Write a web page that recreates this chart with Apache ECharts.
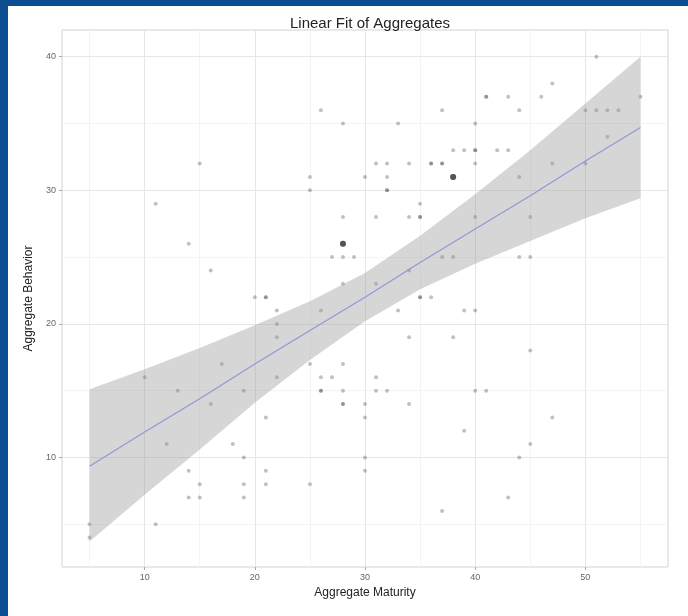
<!DOCTYPE html>
<html>
<head>
<meta charset="utf-8">
<script src="https://cdn.jsdelivr.net/npm/echarts@6/dist/echarts.min.js"></script>
<style>
  html, body { margin: 0; padding: 0; background: #0b4e92; }
  #main { position: absolute; left: 8px; top: 6px; width: 680px; height: 610px; background: #fff; }
</style>
</head>
<body>
<div id="main"></div>
<script>
// observations (maturity, behavior) - repeated pairs are overlapping points
var pointX = [5,5,10,11,11,12,13,14,14,14,
  15,15,15,16,16,17,18,19,19,19,
  19,20,21,21,21,21,21,22,22,22,
  22,25,25,25,25,26,26,26,26,26,
  27,27,28,28,28,28,28,28,28,28,
  28,28,28,28,29,30,30,30,30,30,
  31,31,31,31,31,32,32,32,32,32,
  33,33,34,34,34,34,34,35,35,35,
  35,35,36,36,36,37,37,37,37,37,
  38,38,38,38,38,38,38,39,39,39,
  40,40,40,40,40,40,40,41,41,41,
  42,43,43,43,44,44,44,44,45,45,
  45,45,46,47,47,47,50,50,51,51,
  52,52,53,55];
var pointY = [5,4,16,29,5,11,15,26,9,7,
  32,8,7,24,14,17,11,15,10,8,
  7,22,22,22,13,9,8,21,20,19,
  16,31,30,17,8,36,21,16,15,15,
  25,16,35,28,26,26,26,26,25,23,
  17,15,14,14,25,31,14,13,10,9,
  32,28,23,16,15,32,31,30,30,15,
  35,21,32,28,24,19,14,29,28,28,
  22,22,32,32,22,36,32,32,25,6,
  33,31,31,31,31,25,19,33,21,12,
  35,33,33,32,28,21,15,37,37,15,
  33,37,33,7,36,31,25,10,28,25,
  18,11,37,38,32,13,36,32,40,36,
  36,34,36,37];

// linear fit and its confidence band
var fitX     = [5, 10, 15, 20, 25, 30, 35, 40, 45, 50, 55];
var fitY     = [9.35, 11.9, 14.4, 17.0, 19.5, 22.0, 24.6, 27.1, 29.6, 32.2, 34.7];
var bandLow  = [3.7, 7.2, 10.6, 14.1, 17.3, 20.2, 22.6, 24.5, 26.2, 27.9, 29.4];
var bandHigh = [15.1, 16.6, 18.2, 19.9, 21.7, 23.8, 26.6, 29.7, 33.0, 36.5, 40.0];

var xTicks = [10, 20, 30, 40, 50];
var xMinor = [5, 15, 25, 35, 45, 55];
var yTicks = [10, 20, 30, 40];
var yMinor = [5, 15, 25, 35];

var myChart = echarts.init(document.getElementById('main'));

// how many observations share each spot (overlaps look bigger and darker)
var counts = {};
pointX.forEach(function (x, i) {
    var k = x + '_' + pointY[i];
    counts[k] = (counts[k] || 0) + 1;
});
var points = pointX.map(function (x, i) { return [x, pointY[i]]; });
var fitLine = fitX.map(function (x, i) { return [x, fitY[i]]; });
var band = fitX.map(function (x, i) { return [x, bandLow[i], bandHigh[i]]; });

function gridLines(vals, key, color) {
    return vals.map(function (v) {
        var d = {};
        d[key] = v;
        d.lineStyle = { color: color, width: 1, type: 'solid' };
        return d;
    });
}

var font = 'Liberation Sans, Arial, sans-serif';

myChart.setOption({
    animation: false,
    title: {
        text: 'Linear Fit of Aggregates',
        left: 357,
        top: 5,
        textAlign: 'center',
        textStyle: { fontSize: 15, fontWeight: 'normal', color: '#222', fontFamily: font }
    },
    grid: {
        left: 54, top: 24, width: 606, height: 537,
        show: true, borderColor: '#d2d2d2', borderWidth: 1, backgroundColor: '#fff'
    },
    xAxis: {
        type: 'value', min: 2.5, max: 57.5,
        name: 'Aggregate Maturity', nameLocation: 'middle', nameGap: 18,
        nameTextStyle: { fontSize: 12, color: '#222', fontFamily: font },
        axisLine: { show: false, onZero: false },
        axisTick: { show: true, customValues: xTicks, length: 3, lineStyle: { color: '#aaa' } },
        axisLabel: { customValues: xTicks, fontSize: 9, color: '#666', margin: 6, fontFamily: font },
        splitLine: { show: false }
    },
    yAxis: {
        type: 'value', min: 1.8, max: 42,
        name: 'Aggregate Behavior', nameLocation: 'middle', nameGap: 22,
        nameTextStyle: { fontSize: 12, color: '#222', fontFamily: font },
        axisLine: { show: false, onZero: false },
        axisTick: { show: true, customValues: yTicks, length: 3, lineStyle: { color: '#aaa' } },
        axisLabel: { customValues: yTicks, fontSize: 9, color: '#666', margin: 6, fontFamily: font },
        splitLine: { show: false }
    },
    series: [
        {
            // panel grid lines
            name: 'grid',
            type: 'scatter',
            data: [],
            z: 0,
            silent: true,
            markLine: {
                silent: true,
                z: 0,
                symbol: 'none',
                label: { show: false },
                animation: false,
                data: [].concat(
                    gridLines(xMinor, 'xAxis', '#f4f4f4'),
                    gridLines(yMinor, 'yAxis', '#f4f4f4'),
                    gridLines(xTicks, 'xAxis', '#e6e6e6'),
                    gridLines(yTicks, 'yAxis', '#e6e6e6')
                )
            }
        },
        {
            name: 'observations',
            type: 'scatter',
            data: points,
            symbolSize: function (d) {
                var n = counts[d[0] + '_' + d[1]];
                return n >= 4 ? 6 : 4;
            },
            z: 2,
            itemStyle: { color: 'rgba(0,0,0,0.3)' }
        },
        {
            name: 'confidence',
            type: 'custom',
            data: band,
            z: 3,
            silent: true,
            renderItem: function (params, api) {
                if (params.dataIndex !== 0) return null;
                var pts = [];
                for (var i = 0; i < band.length; i++) pts.push(api.coord([band[i][0], band[i][2]]));
                for (var j = band.length - 1; j >= 0; j--) pts.push(api.coord([band[j][0], band[j][1]]));
                return {
                    type: 'polygon',
                    shape: { points: pts },
                    style: { fill: 'rgba(153,153,153,0.4)', stroke: 'none' }
                };
            }
        },
        {
            name: 'fit',
            type: 'line',
            data: fitLine,
            showSymbol: false,
            z: 4,
            lineStyle: { color: '#8e98dc', width: 1.2 }
        }
    ]
});
</script>
</body>
</html>
